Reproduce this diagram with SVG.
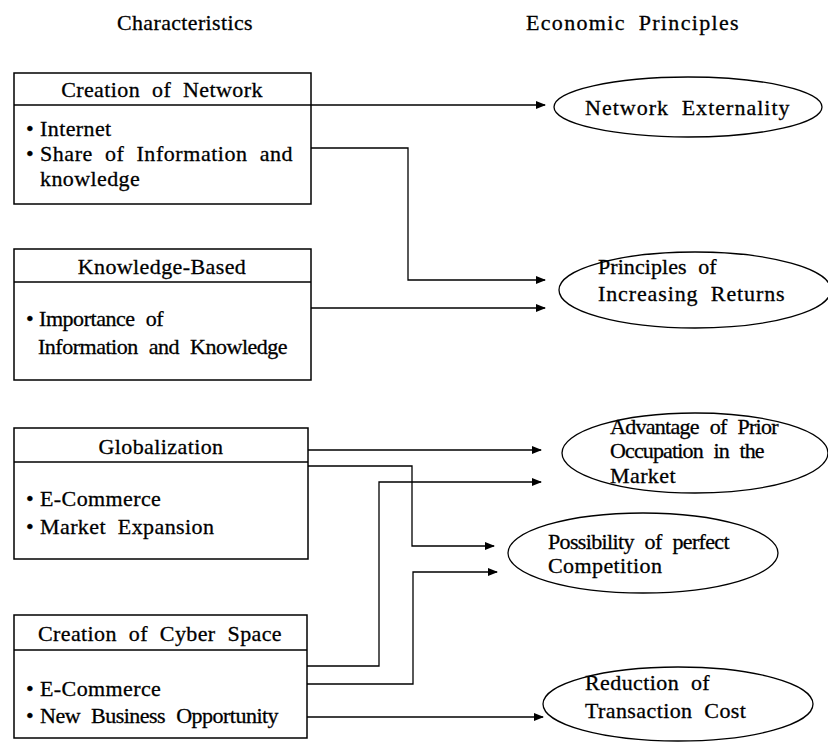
<svg xmlns="http://www.w3.org/2000/svg" width="828" height="744" viewBox="0 0 828 744">
<style>
text{font-family:"Liberation Serif","DejaVu Serif",serif;font-size:22px;fill:#000;stroke:#000;stroke-width:0.3;letter-spacing:0.4px;word-spacing:6px}
.mid{text-anchor:middle}
.box{fill:#fff;stroke:#000;stroke-width:1.5}
.sep{stroke:#000;stroke-width:1.5}
.ell{fill:#fff;stroke:#000;stroke-width:1.3}
.con{fill:none;stroke:#000;stroke-width:1.3}
</style>
<defs>
<marker id="ah" markerWidth="10" markerHeight="8" refX="9" refY="4" orient="auto" markerUnits="userSpaceOnUse">
<path d="M0,0 L10,4 L0,8 Z" fill="#000"/>
</marker>
</defs>
<text x="117" y="30" textLength="136" lengthAdjust="spacingAndGlyphs">Characteristics</text>
<text x="526" y="30" textLength="213" lengthAdjust="spacing">Economic Principles</text>

<g id="connectors">
<path class="con" d="M311,105 H545" marker-end="url(#ah)"/>
<path class="con" d="M311,148 H408 V280 H545" marker-end="url(#ah)"/>
<path class="con" d="M311,308 H545" marker-end="url(#ah)"/>
<path class="con" d="M308,450 H541" marker-end="url(#ah)"/>
<path class="con" d="M308,466 H412 V546 H494" marker-end="url(#ah)"/>
<path class="con" d="M307,666 H379 V482 H541" marker-end="url(#ah)"/>
<path class="con" d="M307,684 H413 V572 H497" marker-end="url(#ah)"/>
<path class="con" d="M307,717 H543" marker-end="url(#ah)"/>
</g>

<g id="n-network">
<rect class="box" x="14" y="73" width="297" height="131"/>
<line class="sep" x1="14" y1="105" x2="311" y2="105"/>
<text class="mid" x="162" y="97">Creation of Network</text>
<text x="26" y="136">•</text><text x="40" y="136">Internet</text>
<text x="26" y="161">•</text><text x="40" y="161" textLength="253" lengthAdjust="spacing">Share of Information and</text>
<text x="40" y="186">knowledge</text>
</g>

<g id="n-knowledge">
<rect class="box" x="14" y="249" width="297" height="131"/>
<line class="sep" x1="14" y1="282" x2="311" y2="282"/>
<text class="mid" x="162" y="274">Knowledge-Based</text>
<text x="26" y="326">•</text><text x="39" y="326" textLength="125" lengthAdjust="spacing">Importance of</text>
<text x="38" y="354" textLength="250" lengthAdjust="spacing">Information and Knowledge</text>
</g>

<g id="n-global">
<rect class="box" x="14" y="428" width="294" height="131"/>
<line class="sep" x1="14" y1="462" x2="308" y2="462"/>
<text class="mid" x="161" y="454">Globalization</text>
<text x="26" y="506">•</text><text x="40" y="506">E-Commerce</text>
<text x="26" y="534">•</text><text x="40" y="534">Market Expansion</text>
</g>

<g id="n-cyber">
<rect class="box" x="14" y="615" width="293" height="123"/>
<line class="sep" x1="14" y1="650" x2="307" y2="650"/>
<text class="mid" x="160" y="641">Creation of Cyber Space</text>
<text x="26" y="696">•</text><text x="40" y="696">E-Commerce</text>
<text x="26" y="723">•</text><text x="40" y="723" textLength="239" lengthAdjust="spacing">New Business Opportunity</text>
</g>

<g id="e-externality">
<ellipse class="ell" cx="688" cy="107" rx="134" ry="30"/>
<text x="585" y="115" textLength="205" lengthAdjust="spacing">Network Externality</text>
</g>

<g id="e-returns">
<ellipse class="ell" cx="695" cy="290" rx="136" ry="38"/>
<text x="598" y="274" textLength="119" lengthAdjust="spacing">Principles of</text>
<text x="598" y="301" textLength="187" lengthAdjust="spacing">Increasing Returns</text>
</g>

<g id="e-prior">
<ellipse class="ell" cx="695" cy="453" rx="133" ry="40"/>
<text x="610" y="434" textLength="169" lengthAdjust="spacing">Advantage of Prior</text>
<text x="610" y="458" textLength="155" lengthAdjust="spacing">Occupation in the</text>
<text x="610" y="483">Market</text>
</g>

<g id="e-competition">
<ellipse class="ell" cx="643" cy="553" rx="135" ry="40"/>
<text x="548" y="549" textLength="182" lengthAdjust="spacing">Possibility of perfect</text>
<text x="548" y="573">Competition</text>
</g>

<g id="e-transaction">
<ellipse class="ell" cx="678" cy="704" rx="135" ry="37"/>
<text x="585" y="690">Reduction of</text>
<text x="585" y="718">Transaction Cost</text>
</g>
</svg>
